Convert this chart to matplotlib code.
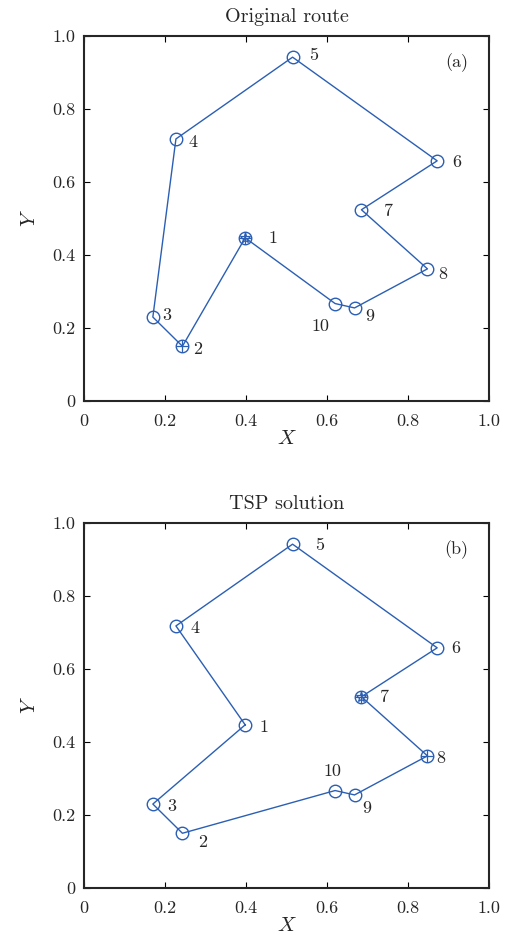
import numpy as np
import matplotlib
matplotlib.use('Agg')
import matplotlib.pyplot as plt

plt.rcParams['font.family'] = 'serif'
plt.rcParams['font.serif'] = ['cmr10', 'DejaVu Serif']
plt.rcParams['mathtext.fontset'] = 'cm'
plt.rcParams['axes.unicode_minus'] = False

# City coordinates (city 1..10)
city_x = [0.398, 0.243, 0.170, 0.227, 0.515, 0.872, 0.685, 0.848, 0.668, 0.620]
city_y = [0.447, 0.150, 0.230, 0.718, 0.942, 0.658, 0.524, 0.362, 0.255, 0.267]

# Visiting orders (closed tours)
route_orig = [1, 2, 3, 4, 5, 6, 7, 8, 9, 10, 1]
route_tsp = [1, 4, 5, 6, 7, 8, 9, 10, 2, 3, 1]

ticks = [0, 0.2, 0.4, 0.6, 0.8, 1.0]
tick_labels = ['0', '0.2', '0.4', '0.6', '0.8', '1.0']

blue = '#2b5fb4'
ink = '#262626'

# label offsets in pixels (dx, dy) for each city
off_a = [(28, 0), (15, -3), (14, 2), (17, -3), (21, 2), (20, -2), (27, -2), (15, -5), (15, -8), (-15, -23)]
off_b = [(19, -2), (20, -9), (19, -2), (19, -2), (27, -1), (19, -1), (23, -1), (13, -2), (12, -13), (-3, 19)]

fig = plt.figure(figsize=(5.08, 9.35), dpi=100)
W, H = 508, 935


def draw(ax, route, start, end, offs, title, tag):
    xs = [city_x[i - 1] for i in route]
    ys = [city_y[i - 1] for i in route]
    ax.plot(xs, ys, '-', color=blue, lw=1.0)
    ax.plot(city_x, city_y, 'o', ms=9, mfc='none', mec=blue, mew=1.0)
    ax.plot(city_x[start - 1], city_y[start - 1], '*', ms=8, mfc='none', mec=blue, mew=0.9)
    ax.plot(city_x[start - 1], city_y[start - 1], '+', ms=8, color=blue, mew=0.9)
    ax.plot(city_x[end - 1], city_y[end - 1], '+', ms=9, color=blue, mew=0.9)
    for i in range(len(city_x)):
        ax.annotate(str(i + 1), (city_x[i], city_y[i]), xytext=offs[i],
                    textcoords='offset pixels', ha='center', va='center',
                    fontsize=13, color=ink)
    ax.set_xlim(0, 1)
    ax.set_ylim(0, 1)
    ax.set_xticks(ticks)
    ax.set_xticklabels(tick_labels)
    ax.set_yticks(ticks)
    ax.set_yticklabels(tick_labels)
    ax.tick_params(direction='in', top=True, right=True, labelsize=13, length=4,
                   width=0.8, labelcolor=ink)
    ax.tick_params(axis='x', pad=9)
    ax.tick_params(axis='y', pad=6)
    for s in ax.spines.values():
        s.set_linewidth(1.5)
        s.set_color(ink)
    ax.set_xlabel('$X$', fontsize=15, labelpad=1, color=ink)
    ax.set_ylabel('$Y$', fontsize=15, labelpad=10, color=ink)
    ax.set_title(title, fontsize=14.5, pad=10, color=ink)
    ax.text(0.948, 0.926, tag, transform=ax.transAxes, ha='right', va='center',
            fontsize=13, color=ink)


ax1 = fig.add_axes([84 / W, (H - 401) / H, 405 / W, 365 / H])
draw(ax1, route_orig, 1, 2, off_a, 'Original route', '(a)')

ax2 = fig.add_axes([84 / W, (H - 888) / H, 405 / W, 365 / H])
draw(ax2, route_tsp, 7, 8, off_b, 'TSP solution', '(b)')

fig.savefig('out.png', dpi=100)
